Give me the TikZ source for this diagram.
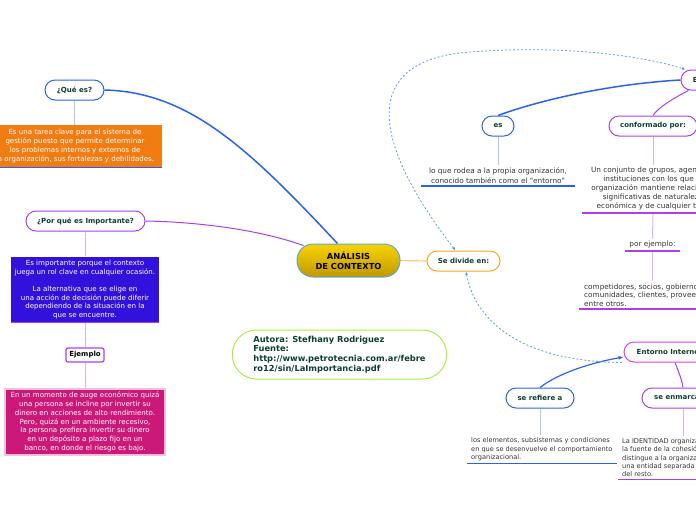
\documentclass[tikz,border=0pt]{standalone}
\usepackage{fontspec}
\setmainfont{DejaVu Sans}[Ligatures=TeXOff]
\usetikzlibrary{positioning, backgrounds, arrows.meta}
\definecolor{txtgreen}{HTML}{0E3F2E}
\definecolor{leaftxt}{HTML}{333333}
\definecolor{lineblue}{HTML}{2A62F0}
\definecolor{paleblue}{HTML}{A8C8FF}
\definecolor{linepurple}{HTML}{B03CF0}
\definecolor{palepurple}{HTML}{DDB0FF}
\definecolor{linemagenta}{HTML}{E03CE8}
\definecolor{lineorange}{HTML}{F5A623}
\definecolor{paleorange}{HTML}{FFC880}
\definecolor{dashblue}{HTML}{5C9CE6}
\definecolor{rootTop}{HTML}{F7D300}
\definecolor{rootBot}{HTML}{C09800}
\definecolor{rootEdge}{HTML}{5AA8E0}
\definecolor{boxorange}{HTML}{F07C12}
\definecolor{boxblue}{HTML}{3311DD}
\definecolor{boxpink}{HTML}{CC1878}
\definecolor{edgepink}{HTML}{F8C0E0}
\definecolor{authgreen}{HTML}{A8F040}
\tikzset{
    root/.style={draw=rootEdge, line width=1pt, rounded corners=16pt, top color=rootTop, bottom color=rootBot, minimum width=103pt, minimum height=33pt, align=center, font=\fontsize{8.3}{10.5}\selectfont\bfseries, text=black},
    topic/.style={draw, fill=white, line width=1pt, rounded corners=10pt, minimum height=20pt, inner xsep=2pt, font=\fontsize{7}{8}\selectfont\bfseries, text=txtgreen},
    leaf/.style={font=\fontsize{7.3}{9}\selectfont, text=leaftxt, inner xsep=4pt, inner ysep=2.5pt},
    colbox/.style={text=white, align=center, font=\fontsize{7.05}{8.7}\selectfont},
    exbox/.style={draw=linepurple, line width=1.2pt, rounded corners=2pt, fill=white, minimum width=38pt, minimum height=14pt, inner sep=1pt, font=\fontsize{7}{8}\selectfont\bfseries},
    author/.style={draw=authgreen, line width=1pt, rounded corners=24pt, fill=white, minimum height=49pt, inner xsep=21pt, align=left, font=\fontsize{8.3}{9.7}\selectfont\bfseries, text=txtgreen},
    ulblue/.style={append after command={\pgfextra{\draw[lineblue, line width=1.3pt] (\tikzlastnode.south west) -- (\tikzlastnode.south east);}}},
    ulpurple/.style={append after command={\pgfextra{\draw[linepurple, line width=1.3pt] (\tikzlastnode.south west) -- (\tikzlastnode.south east);}}},
    stem/.style={line width=1pt},
    branch/.style={line width=1.5pt},
    twig/.style={line width=1pt},
    relation/.style={dashblue, line width=0.8pt, dash pattern=on 2pt off 2pt, >={Latex[length=3.5pt,width=3pt]}},
}
\begin{document}
\begin{tikzpicture}[x=1pt, y=-1pt]
    \useasboundingbox (0,0) rectangle (696,520);
    \clip (0,0) rectangle (696,520);
    % central topic
    \node[root] (ctx) at (348.5,260.5) {ANÁLISIS\\DE CONTEXTO};
    % left branches
    \node[topic, draw=lineblue, minimum width=59pt] (que) at (74.5,90) {¿Qué es?};
    \node[colbox, fill=boxorange, ulblue, minimum width=174pt, minimum height=42pt] (queText) at (75,146) {Es una tarea clave para el sistema de\\gestión puesto que permite determinar\\los problemas internos y externos de\\la organización, sus fortalezas y debilidades.};
    \node[topic, draw=linepurple, minimum width=119pt] (why) at (85.5,221) {¿Por qué es Importante?};
    \node[colbox, fill=boxblue, ulpurple, minimum width=148pt, minimum height=65pt] (whyText) at (85,289.5) {Es importante porque el contexto\\juega un rol clave en cualquier ocasión.\\[8.7pt]La alternativa que se elige en\\una acción de decisión puede diferir\\dependiendo de la situación en la\\que se encuentre.};
    \node[exbox] (ex) at (85,355) {Ejemplo};
    \node[colbox, fill=boxpink, draw=edgepink, line width=1.5pt, minimum width=160pt, minimum height=66pt] (exText) at (85,422) {En un momento de auge económico quizá\\una persona se incline por invertir su\\dinero en acciones de alto rendimiento.\\Pero, quizá en un ambiente recesivo,\\la persona prefiera invertir su dinero\\en un depósito a plazo fijo en un\\banco, en donde el riesgo es bajo.};
    \node[author] (src) at (339.5,354.5) {Autora: Stefhany Rodriguez\\Fuente:\\http://www.petrotecnia.com.ar/febre\\ro12/sin/LaImportancia.pdf};
    % right branches
    \node[topic, draw=lineorange, minimum width=73pt] (split) at (463.5,261) {Se divide en:};
    \node[topic, draw=linepurple, minimum width=88pt] (ext) at (725,80) {Entorno Externo};
    \node[topic, draw=lineblue, minimum width=32pt] (es) at (498,126) {es};
    \node[topic, draw=linepurple, minimum width=88pt] (conf) at (653,126) {conformado por:};
    \node[leaf, ulblue, align=center, minimum width=154pt, anchor=south, font=\fontsize{7.3}{10}\selectfont] (esText) at (498,186) {lo que rodea a la propia organización,\\conocido también como el "entorno"};
    \node[leaf, ulpurple, align=center, minimum width=142pt, anchor=south] (confText) at (653,213) {Un conjunto de grupos, agentes e\\instituciones con los que la\\organización mantiene relaciones\\significativas de naturaleza\\económica y de cualquier tipo.};
    \node[leaf, ulpurple, minimum width=55pt, anchor=south] (forEx) at (652.5,251) {por ejemplo:};
    \node[leaf, ulpurple, align=left, anchor=south west, inner xsep=5pt, font=\fontsize{7.3}{8.6}\selectfont] (exList) at (579,309) {competidores, socios, gobiernos,\\comunidades, clientes, proveedores,\\entre otros.};
    \node[topic, draw=linemagenta, minimum width=88pt] (int) at (668,352) {Entorno Interno};
    \node[topic, draw=lineblue, minimum width=68pt] (refers) at (540,398) {se refiere a};
    \node[topic, draw=linepurple, minimum width=82pt] (frame) at (683,398) {se enmarca en};
    \node[leaf, ulblue, align=left, anchor=south west, font=\fontsize{6.6}{8.3}\selectfont] (refersText) at (467,463.5) {los elementos, subsistemas y condiciones\\en que se desenvuelve el comportamiento\\organizacional.};
    \node[leaf, ulpurple, align=left, anchor=south west, font=\fontsize{6.6}{8.3}\selectfont] (frameText) at (618,479.5) {La IDENTIDAD organizacional es\\la fuente de la cohesión que\\distingue a la organización como\\una entidad separada y distinta\\del resto.};
    % connectors
    \begin{scope}[on background layer]
        \draw[branch, lineblue] ([xshift=-11pt]ctx.north) .. controls (250,150) and (190,92) .. (que.east);
        \draw[twig, linepurple] ([xshift=7pt,yshift=-2pt]ctx.north west) .. controls (260,230) and (200,222) .. (why.east);
        \draw[twig, paleorange, line width=1.2pt] (ctx.east) -- (split.west);
        \draw[stem, paleblue] (que.south) -- (que.south |- queText.north);
        \draw[stem, palepurple] (why.south) -- (why.south |- whyText.north);
        \draw[stem, palepurple] (whyText.south) -- (ex.north);
        \draw[stem, palepurple] (ex.south) -- (exText.north);
        \draw[branch, lineblue] (ext.west) .. controls (610,84) and (540,100) .. (es.north);
        \draw[twig, linepurple] ([xshift=8pt]ext.south west) .. controls (670,100) and (658,108) .. (conf.north);
        \draw[stem, paleblue] (es.south) -- (esText.north);
        \draw[stem, palepurple] (conf.south) -- (conf.south |- confText.north);
        \draw[stem, palepurple] (confText.south) -- (forEx.north);
        \draw[stem, palepurple] (forEx.south) -- (forEx.south |- exList.north);
        \draw[twig, linepurple] ([xshift=7pt]int.south) .. controls (678,370) and (682,380) .. (frame.north);
        \draw[twig, lineblue, line width=1.2pt, -{Latex[length=5pt,width=4pt]}] (refers.north) .. controls (560,372) and (595,362) .. ([yshift=-5pt]int.west);
        \draw[stem, paleblue] (refers.south) -- (refers.south |- refersText.north);
        \draw[stem, palepurple] (frame.south) -- (frame.south |- frameText.north);
        \draw[relation, <->] ([xshift=-8pt]split.north) .. controls (370,140) and (360,60) .. (470,52) .. controls (560,45) and (640,55) .. ([xshift=5pt]ext.north west);
        \draw[relation, <-] ([xshift=2.5pt]split.south) .. controls (475,320) and (520,362) .. (int.south west);
    \end{scope}
\end{tikzpicture}
\end{document}
